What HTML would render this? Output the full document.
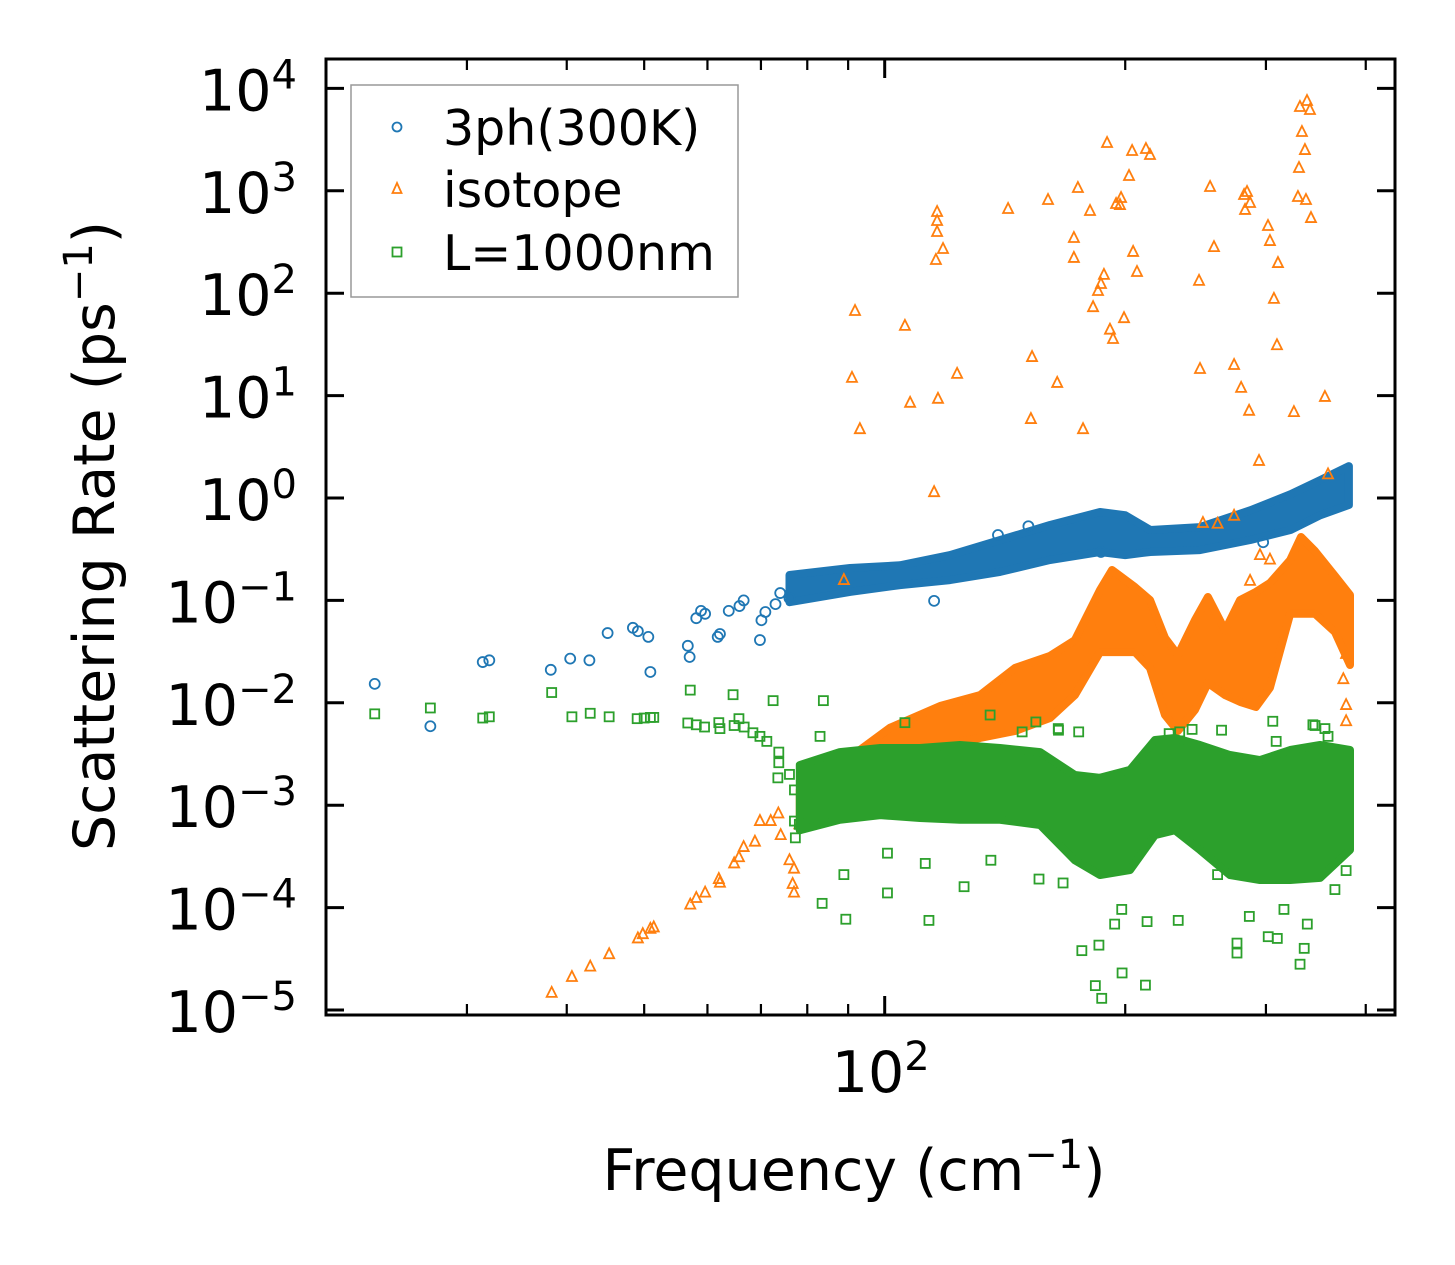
<!DOCTYPE html>
<html><head><meta charset="utf-8"><style>
html,body{margin:0;padding:0;background:#fff;}
svg{display:block;font-family:"DejaVu Sans","Liberation Sans",sans-serif;}
</style></head><body>
<svg id="chart" width="1455" height="1265" viewBox="0 0 1455 1265" xmlns="http://www.w3.org/2000/svg">
<rect x="0" y="0" width="1455" height="1265" fill="#fff"/>
<g id="plot"></g>
<g id="axes"></g>
</svg>
<script>
// ---- data ----
const blueFreq = [23,27,31.4,32,38.2,40.4,42.7,45,48.4,49.1,50.6,50.9,56.7,57,58.1,58.9,59.6,61.8,62.2,63.8,65.8,66.6,69.8,70.1,70.9,73,74,76,115.3,151.3,138.6,297.6,186.5];
const blueRate = [0.0153,0.0059,0.025,0.026,0.021,0.027,0.026,0.048,0.054,0.050,0.044,0.020,0.036,0.028,0.067,0.079,0.074,0.044,0.047,0.079,0.088,0.10,0.041,0.064,0.077,0.092,0.118,0.105,0.099,0.53,0.435,0.37,0.297];
const blueBandFreq = [76,90.5,104.5,120.7,139.5,161,186,200,215,248,287,322,351,381];
const blueBandHi = [0.177,0.207,0.22,0.277,0.389,0.545,0.73,0.68,0.487,0.52,0.76,1.09,1.5,2.05];
const blueBandLo = [0.096,0.121,0.141,0.158,0.19,0.248,0.297,0.277,0.297,0.31,0.389,0.487,0.68,0.855];

const isoFreq = [38.3,40.6,42.8,45.2,49.1,49.8,50.9,51.4,57.1,58.1,59.6,62.0,62.2,64.8,65.7,66.6,68.8,69.8,72,73.6,74.1,76,77,76.7,77,78.2,88.9,
91.8,91.0,93.1,106.0,107.6,116.3,116.3,116.3,118.3,115.9,115.3,116.6,123.2,142.7,152.4,152.9,160.1,164.4,172.5,174.5,172.5,177.1,180.7,182.3,184.9,186.5,188.1,189.8,191.4,193.1,194.8,197.0,197.6,199.3,202.2,204.0,204.6,206.9,212.3,214.8,247.4,248.1,250.2,255.4,258.3,273.7,279.3,281.7,282.5,284.1,285.8,286.6,294.1,294.9,301.8,303.5,310.6,307.0,309.7,325.2,329.0,330.0,330.9,332.8,335.7,337.7,340.6,336.7,341.6,355.6,358.8,378,378,375,378,261,273.7,303.5,286.6];
const isoRate = [1.47e-5,2.1e-5,2.65e-5,3.5e-5,5e-5,5.5e-5,6.2e-5,6.4e-5,1.07e-4,1.24e-4,1.4e-4,1.9e-4,1.75e-4,2.7e-4,3.1e-4,3.9e-4,4.4e-4,7.0e-4,7.0e-4,8.3e-4,5.1e-4,2.9e-4,2.4e-4,1.7e-4,1.4e-4,6.5e-4,0.158,
67,14.9,4.7,48,8.5,507,396,621,270,211,1.14,9.3,16.3,664,5.9,23.8,813,13.3,346,1065,221,4.7,635,73,105,123,151,2930,44,35.7,743,726,851,57,1395,2447,253,161,2560,2237,132,18.2,0.57,1089,282,19.9,11.9,910,650,973,7.1,760,2.3,0.277,453,323,197,88,31,6.9,870,1670,6580,3750,2500,7530,6150,813,542,9.7,1.7,0.0095,0.0066,0.017,0.03,0.56,0.67,0.25,0.155];
const isoBandFreq = [78.3,93.1,101.5,117.3,131.6,145.6,161,173,186,192.5,205.7,214.8,224.3,232.8,244.5,253.8,266.7,278.5,291.5,303.5,321.7,331.9,345.6,366.1,382.3];
const isoBandHi = [1.41e-3,3.46e-3,5.7e-3,9.3e-3,1.19e-2,2.19e-2,2.87e-2,4.1e-2,0.126,0.198,0.135,0.101,4.3e-2,2.93e-2,6.4e-2,0.108,5.1e-2,0.101,0.121,0.148,0.248,0.416,0.303,0.173,0.113];
const isoBandLo = [5.7e-4,2.76e-3,3.0e-3,3.87e-3,4.53e-3,5.3e-3,7.1e-3,1.19e-2,3.13e-2,3.13e-2,3.13e-2,2.19e-2,7.6e-3,5.3e-3,8.5e-3,1.56e-2,1.19e-2,1.02e-2,9.1e-3,1.4e-2,7.4e-2,7.4e-2,7.4e-2,4.9e-2,2.34e-2];

const bndFreq = [23,27,31.4,32,38.3,40.6,42.8,45.2,49,50,50.9,51.4,57.1,56.7,58.1,59.5,62.0,62.2,64.6,64.8,65.7,66.7,68.4,69.8,71.2,72.5,73.7,73.7,73.5,76.0,77.1,77.1,77.3,78.2,80.6,83,83.8,83.5,88.9,89.4,
106,135.5,154.6,164.9,174.9,264,343.5,355.6,309,242.5,100.8,113.6,125.7,167.2,176.5,185.4,183.5,186.9,198.2,212,198,213,233,276,276,302,310,335,331,378,366,194,232,261,286,316,338,100.8,112.4,135.8,156,378,378,345.6,358.8,306,234,227,148.6,165];
const bndRate = [7.8e-3,8.9e-3,7.1e-3,7.3e-3,1.26e-2,7.3e-3,7.9e-3,7.3e-3,7.0e-3,7.1e-3,7.2e-3,7.2e-3,1.33e-2,6.35e-3,6.1e-3,5.8e-3,6.4e-3,5.6e-3,1.2e-2,6.0e-3,7.0e-3,5.8e-3,5.1e-3,4.7e-3,4.2e-3,1.05e-2,3.3e-3,2.6e-3,1.85e-3,2.0e-3,1.41e-3,7.0e-4,4.8e-4,6.5e-4,8.9e-4,4.7e-3,1.05e-2,1.1e-4,2.1e-4,7.7e-5,
6.4e-3,7.6e-3,6.5e-3,5.6e-3,5.2e-3,5.4e-3,6.1e-3,5.6e-3,4.2e-3,5.5e-3,1.39e-4,7.5e-5,1.6e-4,1.74e-4,3.8e-5,4.3e-5,1.73e-5,1.3e-5,2.3e-5,1.75e-5,9.6e-5,7.3e-5,7.5e-5,3.6e-5,4.5e-5,5.2e-5,5e-5,4e-5,2.8e-5,2.3e-4,1.5e-4,6.9e-5,7.3e-4,2.1e-4,8.2e-5,9.6e-5,6.9e-5,3.4e-4,2.7e-4,2.9e-4,1.9e-4,5.1e-4,2.4e-3,6e-3,4.7e-3,6.6e-3,5.2e-3,5e-3,5.2e-3,5.4e-3];
const bndBandFreq = [78.3,87.9,98.7,110.7,124.2,139.4,156.5,173,186,202.8,217.9,230.8,248.1,270.4,294.9,321.7,350.7,382.3];
const bndBandHi = [2.47e-3,3.3e-3,3.62e-3,3.62e-3,3.87e-3,3.62e-3,3.3e-3,1.97e-3,1.85e-3,2.21e-3,4.33e-3,4.53e-3,3.87e-3,3.09e-3,2.76e-3,3.46e-3,3.87e-3,3.46e-3];
const bndBandLo = [5.7e-4,7.2e-4,8.0e-4,7.5e-4,7.2e-4,7.2e-4,6.4e-4,2.9e-4,2.08e-4,2.33e-4,5.1e-4,5.7e-4,3.65e-4,2.08e-4,1.86e-4,1.86e-4,1.95e-4,3.65e-4];

const yTickExps = [4,3,2,1,0,-1,-2,-3,-4,-5];
const xMinorTicks = [20,30,40,50,60,70,80,90,200,300,400];
const xMajorTicks = [100];

// ---- axes functions ----
const L=326,R=1395,T=59,B=1015;
function X(f){return 884.7+799*Math.log10(f/100);}
function Y(v){return 498-102.4*Math.log10(v);}
const NS="http://www.w3.org/2000/svg";
const plot=document.getElementById('plot');
const axes=document.getElementById('axes');
function mk(tag,attrs,parent){const e=document.createElementNS(NS,tag);for(const k in attrs)e.setAttribute(k,attrs[k]);parent.appendChild(e);return e;}

const BLUE="#1f77b4",ORANGE="#ff7f0e",GREEN="#2ca02c";

function band(fr,hi,lo,color,name){
  let pts=[];
  for(let i=0;i<fr.length;i++)pts.push(X(fr[i]).toFixed(1)+","+Y(hi[i]).toFixed(1));
  for(let i=fr.length-1;i>=0;i--)pts.push(X(fr[i]).toFixed(1)+","+Y(lo[i]).toFixed(1));
  const p=mk('polygon',{points:pts.join(' '),fill:color,stroke:color,'stroke-width':8,'stroke-linejoin':'round'},plot);
  
  
}
function circle(f,v){
  const c=mk('circle',{cx:X(f),cy:Y(v),r:5,fill:'none',stroke:BLUE,'stroke-width':1.8},plot);
  
  
}
function tri(f,v){
  const x=X(f),y=Y(v);
  const t=mk('polygon',{points:`${x},${y-6} ${x-5},${y+4} ${x+5},${y+4}`,fill:'none',stroke:ORANGE,'stroke-width':1.8},plot);
  
  
}
function sq(f,v){
  const s=mk('rect',{x:X(f)-4.5,y:Y(v)-4.5,width:9,height:9,fill:'none',stroke:GREEN,'stroke-width':1.8},plot);
  
  
}

band(blueBandFreq,blueBandHi,blueBandLo,BLUE,'3ph-dense-band');
for(let i=0;i<blueFreq.length;i++)circle(blueFreq[i],blueRate[i]);
band(isoBandFreq,isoBandHi,isoBandLo,ORANGE,'isotope-dense-band');
for(let i=0;i<isoFreq.length;i++)tri(isoFreq[i],isoRate[i]);
band(bndBandFreq,bndBandHi,bndBandLo,GREEN,'boundary-dense-band');
for(let i=0;i<bndFreq.length;i++)sq(bndFreq[i],bndRate[i]);

// frame
const frame=mk('rect',{x:L,y:T,width:R-L,height:B-T,fill:'none',stroke:'#000','stroke-width':3},axes);



// y ticks
yTickExps.forEach(e=>{
  const y=Y(Math.pow(10,e));
  const t1=mk('line',{x1:L,x2:L+18,y1:y,y2:y,stroke:'#000','stroke-width':3},axes);
  
  
  const t2=mk('line',{x1:R,x2:R-18,y1:y,y2:y,stroke:'#000','stroke-width':3},axes);
  
  
  const tx=mk('text',{x:297,y:y+22,'font-size':57,'text-anchor':'end',fill:'#000'},axes);
  
  
  tx.appendChild(document.createTextNode('10'));
  const sp=mk('tspan',{'font-size':40,dy:-22},tx);
  sp.textContent=(e<0?'\u2212':'')+Math.abs(e);
});
// x ticks
xMinorTicks.forEach(f=>{
  const x=X(f);
  const a=mk('line',{x1:x,x2:x,y1:B,y2:B-11,stroke:'#000','stroke-width':2.2},axes);
  
  
  const b=mk('line',{x1:x,x2:x,y1:T,y2:T+11,stroke:'#000','stroke-width':2.2},axes);
  
  
});
xMajorTicks.forEach(f=>{
  const x=X(f);
  const a=mk('line',{x1:x,x2:x,y1:B,y2:B-19,stroke:'#000','stroke-width':3},axes);
  
  
  const b=mk('line',{x1:x,x2:x,y1:T,y2:T+19,stroke:'#000','stroke-width':3},axes);
  
  
  const tx=mk('text',{x:x-4,y:1092,'font-size':57,'text-anchor':'middle',fill:'#000'},axes);
  
  
  tx.appendChild(document.createTextNode('10'));
  const sp=mk('tspan',{'font-size':40,dy:-22},tx);
  sp.textContent=String(Math.round(Math.log10(f)));
});
</script>
<svg style="position:absolute;left:0;top:0" width="1455" height="1265">
<text x="854" y="1190" font-size="57" text-anchor="middle" style="font-family:'DejaVu Sans','Liberation Sans',sans-serif">Frequency (cm<tspan font-size="40" dy="-22">−1</tspan><tspan dy="22">)</tspan></text>
<text transform="translate(114,536) rotate(-90)" font-size="57" text-anchor="middle" style="font-family:'DejaVu Sans','Liberation Sans',sans-serif">Scattering Rate (ps<tspan font-size="40" dy="-22">−1</tspan><tspan dy="22">)</tspan></text>
<g>
<rect x="351" y="85" width="387" height="212" fill="#fff" fill-opacity="0.8" stroke="#999" stroke-width="1.5"/>
<circle cx="397" cy="127" r="4.5" fill="none" stroke="#1f77b4" stroke-width="1.8"/>
<polygon points="397,183 392.5,193 401.5,193" fill="none" stroke="#ff7f0e" stroke-width="1.8"/>
<rect x="392.5" y="247.5" width="9" height="9" fill="none" stroke="#2ca02c" stroke-width="1.8"/>
<text x="443" y="145" font-size="49" style="font-family:'DejaVu Sans','Liberation Sans',sans-serif">3ph(300K)</text>
<text x="443" y="207" font-size="49" style="font-family:'DejaVu Sans','Liberation Sans',sans-serif">isotope</text>
<text x="443" y="270" font-size="49" style="font-family:'DejaVu Sans','Liberation Sans',sans-serif">L=1000nm</text>
</g>
</svg>
</body></html>
